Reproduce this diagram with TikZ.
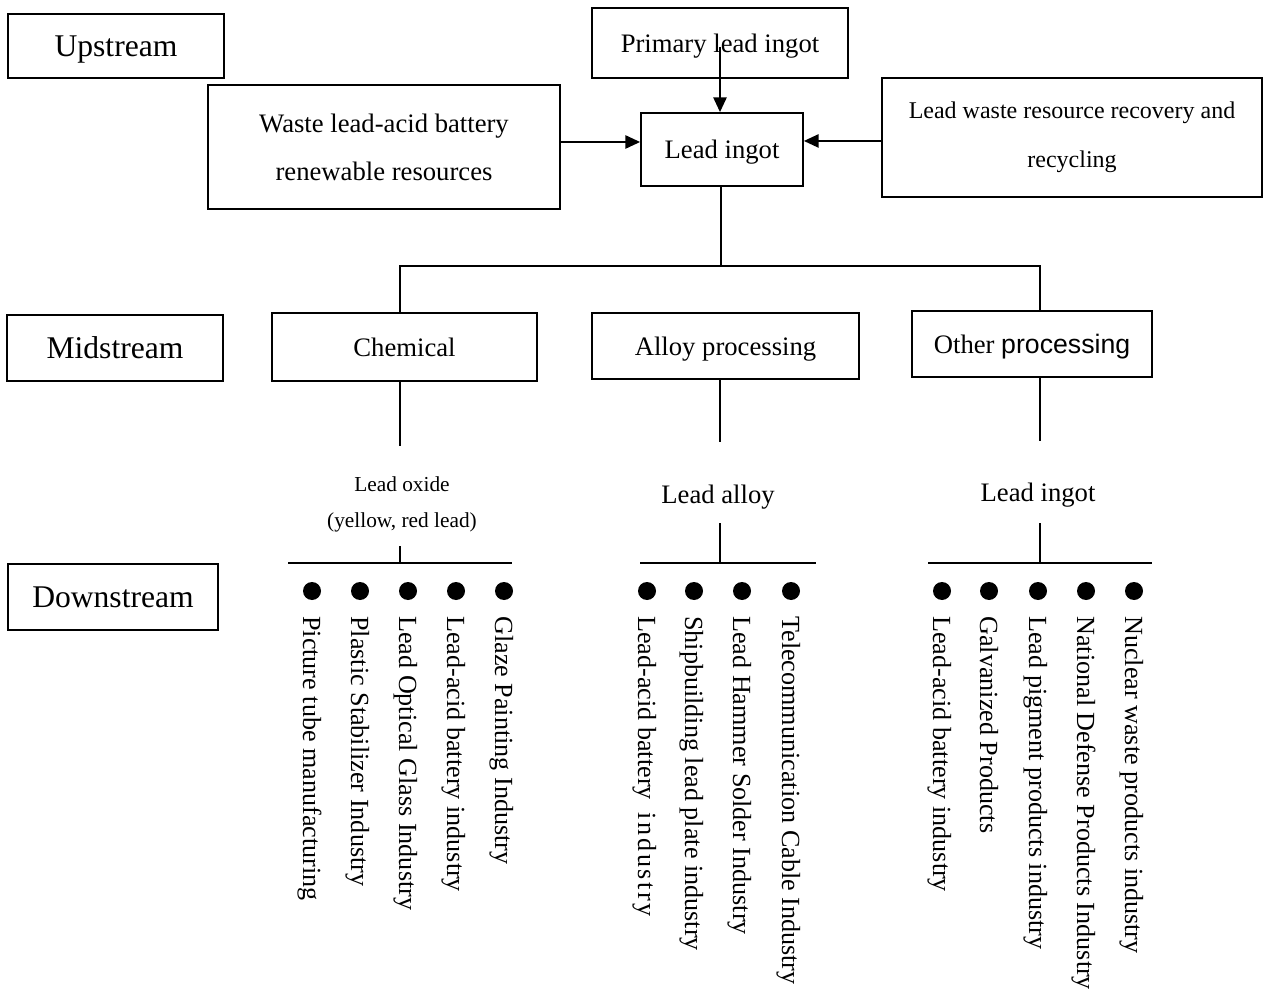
\documentclass[tikz,border=0pt]{standalone}
\usepackage{fontspec}
\setmainfont{Liberation Serif}
\newfontfamily\arialfont{Liberation Sans}
\usetikzlibrary{arrows.meta}
\begin{document}
\begin{tikzpicture}[x=0.75pt,y=-0.75pt,
  box/.style={draw, line width=1.4pt, inner sep=0pt, align=center,
              font=\fontsize{20}{36}\selectfont},
  oneline/.style={text depth=0pt},
  stage/.style={box, oneline, font=\fontsize{23.7}{28}\selectfont},
  link/.style={line width=1.1pt},
  arr/.style={link, -{Triangle[length=11pt,width=10pt]}},
  lbl/.style={inner sep=0pt, align=center, font=\fontsize{20}{24}\selectfont},
  item/.style={rotate=-90, anchor=base west, inner sep=0pt,
               font=\fontsize{19.6}{24}\selectfont},
  dot/.style={circle, fill, inner sep=0pt, minimum size=13.5pt}]
\useasboundingbox (0,0) rectangle (1263,994);

% stage labels
\node[stage, minimum width=162pt, minimum height=48pt]   (up)   at (116,46)  {Upstream};
\node[stage, minimum width=162pt, minimum height=49.5pt] (mid)  at (115,348) {Midstream};
\node[stage, minimum width=157.5pt, minimum height=49.5pt] (down) at (113,597) {Downstream};

% upstream sources
\node[box, oneline, minimum width=192pt, minimum height=52.5pt] (prim) at (720,43) {Primary lead ingot};
\node[box, minimum width=264pt, minimum height=93pt]   (waste) at (384,147)
  {Waste lead-acid battery\\renewable resources};
\node[box, minimum width=285pt, minimum height=89.25pt, font=\fontsize{18}{37}\selectfont]
  (recov) at (1072,137.5) {Lead waste resource recovery and\\recycling};
\node[box, oneline, minimum width=121.5pt, minimum height=54.75pt] (ingot) at (722,149.5) {Lead ingot};

\draw[arr] ([yshift=3.75pt]waste.east) -- ([yshift=3.75pt]waste.east -| ingot.west);
\draw[arr] ([yshift=-2.6pt]recov.west) -- ([yshift=-2.6pt]recov.west -| ingot.east);
\draw[arr] ([yshift=-3pt]prim.center) -- (prim.center |- ingot.north);

% midstream processing
\node[box, oneline, minimum width=198.75pt, minimum height=51pt]  (chem)  at (404.5,347) {Chemical};
\node[box, oneline, minimum width=200.25pt, minimum height=49.5pt] (alloy) at (725.5,346) {Alloy processing};
\node[box, oneline, minimum width=180pt, minimum height=49.5pt]   (other) at (1032,344)
  {Other {\arialfont processing}};

\coordinate (busL) at (400,266);
\coordinate (busM) at (721,266);
\coordinate (busR) at (1040,266);
\draw[link] (ingot.south -| busM) -- (busM);
\draw[link] (chem.north -| busL) -- (busL) -- (busR) -- (other.north -| busR);

% intermediate products
\node[lbl, font=\fontsize{16}{27}\selectfont] (oxide) at (402,504) {Lead oxide\\(yellow, red lead)};
\node[lbl] (lalloy) at (718,497) {Lead alloy};
\node[lbl] (lingot) at (1038,495) {Lead ingot};

\coordinate (c1) at (400,446);
\coordinate (c2) at (400,546);
\coordinate (a1) at (720,442);
\coordinate (a2) at (720,523);
\coordinate (o1) at (1040,441);
\coordinate (o2) at (1040,523);
\draw[link] (chem.south -| c1) -- (c1);
\draw[link] (alloy.south -| a1) -- (a1);
\draw[link] (other.south -| o1) -- (o1);

% downstream branches
\coordinate (cbL) at (288,563);
\coordinate (cbR) at (512,563);
\coordinate (abL) at (640,563);
\coordinate (abR) at (816,563);
\coordinate (obL) at (928,563);
\coordinate (obR) at (1152,563);
\draw[link] (cbL) -- (cbR);
\draw[link] (abL) -- (abR);
\draw[link] (obL) -- (obR);
\draw[link] (c2) -- (c2 |- cbL);
\draw[link] (a2) -- (a2 |- abL);
\draw[link] (o2) -- (o2 |- obL);

% downstream industries
\foreach \c/\t [count=\i] in {
  312/Picture tube manufacturing,
  360/Plastic Stabilizer Industry,
  408/Lead Optical Glass Industry,
  456/Lead-acid battery industry,
  504/Glaze Painting Industry,
  647/{Lead-acid battery\ \ {\addfontfeature{LetterSpace=10}industry}},
  694/Shipbuilding lead plate industry,
  742/Lead Hammer Solder Industry,
  791/Telecommunication Cable Industry,
  942/Lead-acid battery industry,
  989/Galvanized Products,
  1038/Lead pigment products industry,
  1086/National Defense Products Industry,
  1134/Nuclear waste products industry}{
  \node[dot] (d\i) at (\c,591) {};
  \node[item] (t\i) at (\c-9,616) {\t};
}
\end{tikzpicture}
\end{document}
